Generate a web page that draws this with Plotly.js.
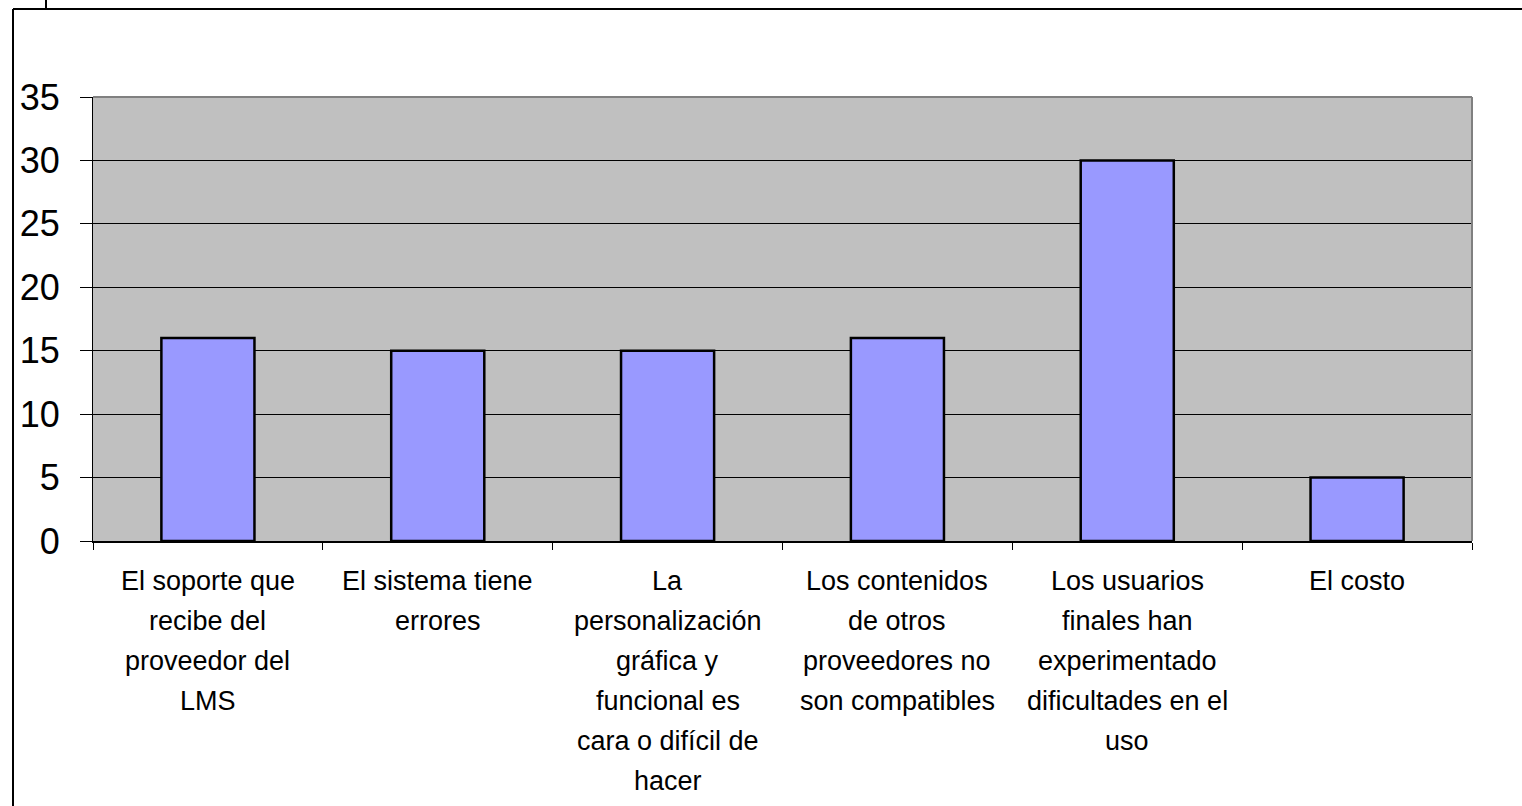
<!DOCTYPE html>
<html>
<head>
<meta charset="utf-8">
<script src="https://cdn.plot.ly/plotly-3.0.1.min.js"></script>
<style>
html,body{margin:0;padding:0;background:#fff;}
#chart{width:1522px;height:806px;}
</style>
</head>
<body>
<div id="chart"></div>
<script>
// ---- data ----
const categories = [
  "El soporte que recibe del proveedor del LMS",
  "El sistema tiene errores",
  "La personalización gráfica y funcional es cara o difícil de hacer",
  "Los contenidos de otros proveedores no son compatibles",
  "Los usuarios finales han experimentado dificultades en el uso",
  "El costo"
];
const labelLines = [
  ["El soporte que", "recibe del", "proveedor del", "LMS"],
  ["El sistema tiene", "errores"],
  ["La", "personalización", "gráfica y", "funcional es", "cara o difícil de", "hacer"],
  ["Los contenidos", "de otros", "proveedores no", "son compatibles"],
  ["Los usuarios", "finales han", "experimentado", "dificultades en el", "uso"],
  ["El costo"]
];
const values = [16, 15, 15, 16, 30, 5];
const yTicks = [0, 5, 10, 15, 20, 25, 30, 35];

// ---- layout geometry (pixels) ----
const W = 1522, H = 806;
const L = 93, R = 1472, T = 97, B = 541;
const pw = R - L, ph = B - T;
const px = x => (x - L) / pw;
const py = y => (B - y) / ph;

const annotations = [];
labelLines.forEach((lines, i) => {
  lines.forEach((ln, j) => {
    annotations.push({
      x: categories[i], xref: 'x', y: 0, yref: 'y',
      text: ln, showarrow: false,
      xanchor: 'center', yanchor: 'middle',
      yshift: -(40 + 40 * j),
      font: {family: 'Liberation Sans, Arial, sans-serif', size: 27, color: '#000'}
    });
  });
});

const shapes = [
  // plot area top & right border (gray)
  {type: 'line', xref: 'paper', yref: 'paper', x0: 0, x1: 1, y0: 1, y1: 1, line: {color: '#808080', width: 2}},
  {type: 'line', xref: 'paper', yref: 'paper', x0: 1, x1: 1, y0: 0, y1: 1, line: {color: '#808080', width: 2}},
  // outer frame
  {type: 'line', xref: 'paper', yref: 'paper', x0: px(13), x1: px(1530), y0: py(9), y1: py(9), line: {color: '#000', width: 2}},
  {type: 'line', xref: 'paper', yref: 'paper', x0: px(13), x1: px(13), y0: py(9), y1: py(810), line: {color: '#000', width: 2}},
  {type: 'line', xref: 'paper', yref: 'paper', x0: px(46), x1: px(46), y0: py(-2), y1: py(9), line: {color: '#000', width: 2}}
];

const trace = {
  type: 'bar',
  x: categories,
  y: values,
  width: 0.405,
  marker: {color: '#9999FF', line: {color: '#000', width: 2.5}},
  hoverinfo: 'x+y'
};

const layout = {
  width: W, height: H,
  margin: {l: L, r: W - R, t: T, b: H - B, pad: 0},
  paper_bgcolor: '#ffffff',
  plot_bgcolor: '#C0C0C0',
  showlegend: false,
  bargap: 0.595,
  xaxis: {
    type: 'category',
    showticklabels: false,
    ticks: 'outside', ticklen: 7, tickwidth: 1, tickcolor: '#000',
    tickson: 'boundaries',
    showgrid: false,
    showline: true, linecolor: '#000', linewidth: 2,
    zeroline: false,
    fixedrange: true
  },
  yaxis: {
    range: [0, 35],
    tickvals: yTicks,
    ticktext: yTicks.map(String),
    ticks: 'outside', ticklen: 12, tickwidth: 1, tickcolor: '#000',
    ticklabelstandoff: 13,
    tickfont: {family: 'Liberation Sans, Arial, sans-serif', size: 36, color: '#000'},
    showgrid: true, gridcolor: '#000', gridwidth: 1,
    showline: true, linecolor: '#000', linewidth: 1,
    zeroline: false,
    fixedrange: true
  },
  annotations: annotations,
  shapes: shapes
};

Plotly.newPlot('chart', [trace], layout, {displayModeBar: false, staticPlot: true});
</script>
</body>
</html>
